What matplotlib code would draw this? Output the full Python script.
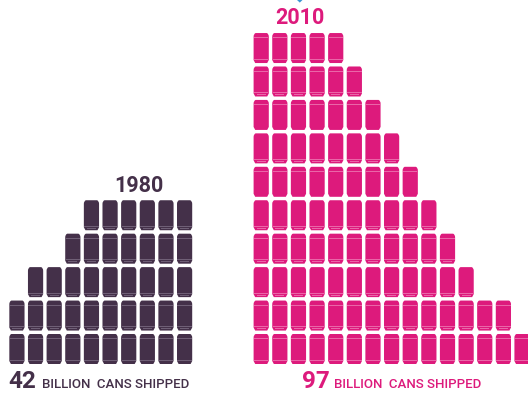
import matplotlib
matplotlib.use("Agg")
import matplotlib.pyplot as plt
from matplotlib.patches import PathPatch, Rectangle, Polygon
from matplotlib.path import Path

# Cans per row, listed from the bottom row upward
counts_1980 = [10, 10, 9, 7, 6]
counts_2010 = [15, 14, 12, 11, 10, 9, 8, 7, 6, 5]
total_1980 = "42"
total_2010 = "97"
year_1980 = "1980"
year_2010 = "2010"
unit_label = "BILLION  CANS SHIPPED"

PLUM = "#443049"
PLUM_LIGHT = "#6f5f76"
PINK = "#dd1a7c"
PINK_LIGHT = "#ea66a8"

W, H = 528, 394
COL_STEP = 18.63
ROW_STEP = 33.44
CAN_W = 15.2
CAN_H = 30.0
BOTTOM_TOP = 334.0   # pixel y of the top of the lowest row


def can_path(x, y):
    """Outline of a can, with (x, y) its top-left corner (y grows downward)."""
    w, h = CAN_W, CAN_H
    t = 2.0
    V = [
        (x + t, y), (x + w - t, y),
        (x + w, y + 0.8), (x + w, y + 3.6),
        (x + w, y + h - 3.0), (x + w - 1.6, y + h),
        (x + 1.6, y + h), (x, y + h - 3.0),
        (x, y + 3.6), (x, y + 0.8), (x + t, y), (x + t, y),
    ]
    C = [Path.MOVETO, Path.LINETO, Path.CURVE3, Path.CURVE3,
         Path.LINETO, Path.LINETO, Path.LINETO, Path.LINETO,
         Path.LINETO, Path.CURVE3, Path.CURVE3, Path.CLOSEPOLY]
    return Path(V, C)


def draw_can(ax, x, y, color, light):
    ax.add_patch(PathPatch(can_path(x, y), facecolor=color, edgecolor="none"))
    # faint seams under the lid and above the base
    ax.add_patch(Rectangle((x + 0.4, y + 4.4), CAN_W - 0.8, 0.7, facecolor=light, edgecolor="none"))
    ax.add_patch(Rectangle((x + 0.4, y + CAN_H - 4.2), CAN_W - 0.8, 0.7, facecolor=light, edgecolor="none"))
    ax.add_patch(Rectangle((x + 3, y + CAN_H - 2.2), CAN_W - 6, 0.6, facecolor=light, edgecolor="none"))


fig = plt.figure(figsize=(W / 100, H / 100), dpi=100)
ax = fig.add_axes([0, 0, 1, 1])
ax.set_xlim(0, W)
ax.set_ylim(H, 0)
ax.axis("off")

# 1980 stack is right-aligned
right_col_1980 = 177.0
for r, n in enumerate(counts_1980):
    for c in range(n):
        draw_can(ax, right_col_1980 - c * COL_STEP, BOTTOM_TOP - r * ROW_STEP, PLUM, PLUM_LIGHT)

# 2010 stack is left-aligned
left_col_2010 = 253.6
for r, n in enumerate(counts_2010):
    for c in range(n):
        draw_can(ax, left_col_2010 + c * COL_STEP, BOTTOM_TOP - r * ROW_STEP, PINK, PINK_LIGHT)

# tip of the pointer coming in from the top edge
ax.add_patch(Polygon([(297, 0), (302.5, 0), (299.8, 2.6)], facecolor="#3b97d3", edgecolor="none"))

FONT = "Roboto"
ax.text(138.5, 186, year_1980, color=PLUM, fontsize=15.5, fontweight="bold",
        family=FONT, ha="center", va="center")
ax.text(299.5, 18, year_2010, color=PINK, fontsize=15.5, fontweight="bold",
        family=FONT, ha="center", va="center")

ax.text(8, 381, total_1980, color=PLUM, fontsize=17.5, fontweight="bold",
        family=FONT, ha="left", va="center")
ax.text(42, 384.5, unit_label, color=PLUM, fontsize=9.5, fontweight="medium",
        family=FONT, ha="left", va="center")
ax.text(302, 381, total_2010, color=PINK, fontsize=17.5, fontweight="bold",
        family=FONT, ha="left", va="center")
ax.text(334, 384.5, unit_label, color=PINK, fontsize=9.5, fontweight="medium",
        family=FONT, ha="left", va="center")

fig.savefig("out.png", dpi=100, facecolor="white")
